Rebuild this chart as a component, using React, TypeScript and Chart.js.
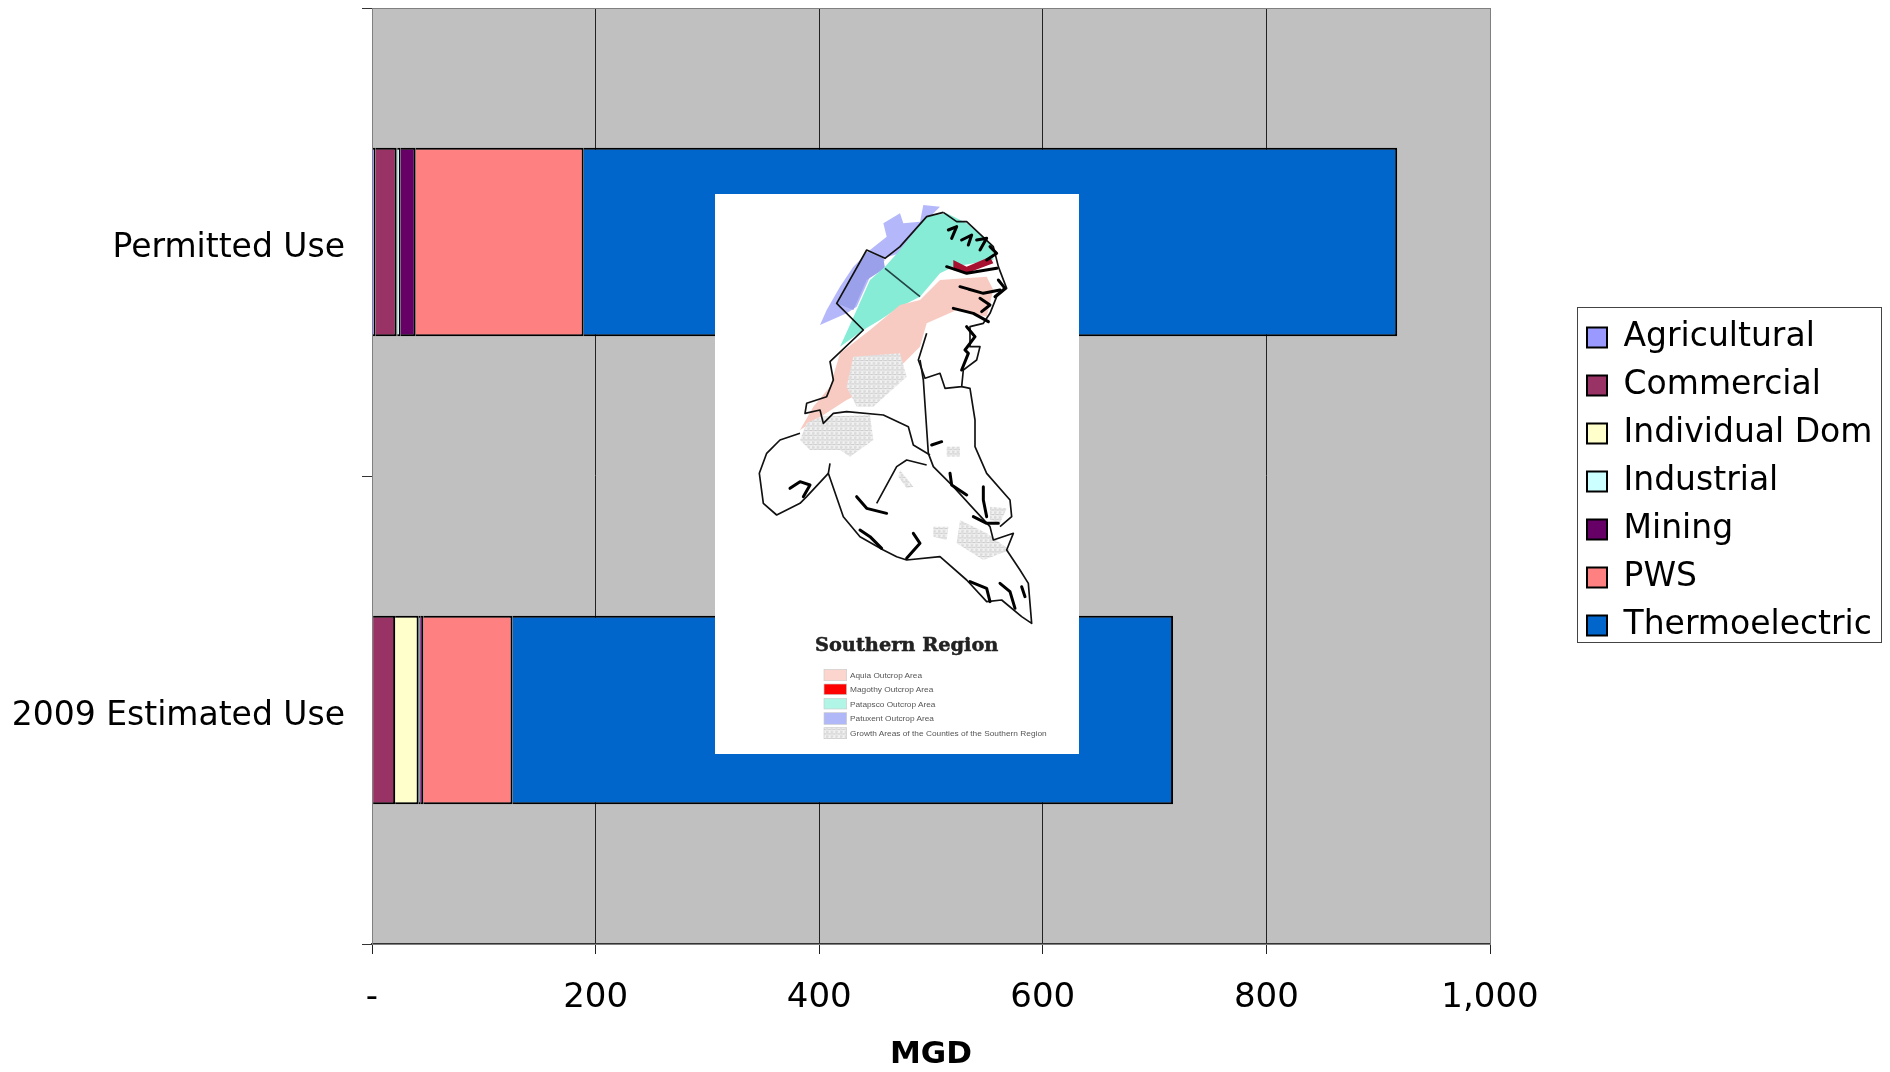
import React, { useEffect, useRef } from "react";
import { Chart, registerables } from "chart.js";

Chart.register(...registerables);

const categories = ["Permitted Use", "2009 Estimated Use"];
const agricultural = [3, 1];
const commercial = [19, 19.7];
const individualDom = [0.6, 21];
const industrial = [2.9, 1.5];
const mining = [13.5, 2.7];
const pws = [150.3, 79.8];
const thermoelectric = [727.7, 590.8];
const seriesNames = ["Agricultural", "Commercial", "Individual Dom", "Industrial", "Mining", "PWS", "Thermoelectric"];
const seriesValues = [agricultural, commercial, individualDom, industrial, mining, pws, thermoelectric];
const seriesColors = ["#9999FF", "#993366", "#FFFFCC", "#CCFFFF", "#660066", "#FF8080", "#0066CC"];
const FONT = "'DejaVu Sans', sans-serif";

const layoutPlugin = {
  id: "layoutPlugin",
  beforeLayout(chart: any) {
    const l = chart.legend;
    if (l && !l.__wrapped) {
      const fit = l.fit.bind(l);
      l.fit = function () { fit(); l.width = 400; };
      l.__wrapped = true;
    }
  },
  afterLayout(chart: any) {
    const l = chart.legend;
    l.left = 1572; l.right = 1885; l.top = 306; l.bottom = 720; l.width = 313; l.height = 414;
  },
  beforeDraw(chart: any) {
    const { ctx, chartArea: a } = chart;
    ctx.save();
    ctx.fillStyle = "#C0C0C0";
    ctx.fillRect(a.left, a.top, a.right - a.left, a.bottom - a.top);
    ctx.restore();
  },
  afterDatasetsDraw(chart: any) {
    const { ctx, chartArea: a } = chart;
    ctx.save();
    ctx.strokeStyle = "#808080";
    ctx.lineWidth = 1;
    ctx.strokeRect(a.left + 0.5, a.top + 0.5, a.right - a.left, a.bottom - a.top);
    ctx.strokeStyle = "#444";
    ctx.lineWidth = 1;
    ctx.strokeRect(1577.5, 307.5, 304, 335);
    ctx.restore();
  },
};

const pt = (s: string) => s;

function MapInset() {
  const stroke = { fill: "none", stroke: "#111", strokeWidth: 5, strokeLinejoin: "round" as const };
  const inlet = { fill: "none", stroke: "#000", strokeWidth: 9, strokeLinejoin: "round" as const, strokeLinecap: "round" as const };
  return (
    <svg
      viewBox="45 42 1092 1680"
      style={{ position: "absolute", left: 715, top: 194, width: 364, height: 560, background: "#fff", filter: "blur(0.6px)" }}
    >
      <defs>
        <pattern id="grow" width="14" height="14" patternUnits="userSpaceOnUse">
          <rect width="14" height="14" fill="#f1f1f1" />
          <path d="M0 3H8M6 10H14M3 6V12" stroke="#b4b4b4" strokeWidth="2" />
        </pattern>
      </defs>
      <polygon fill="#b4b8fb" points={pt("670,75 720,80 690,110 600,220 550,235 510,210 460,260 420,320 380,390 360,435 440,400 470,380 510,290 555,240 510,210 560,170 550,130 600,100 610,130 660,125")} />
      <polygon fill="#9aa0ea" points={pt("500,215 550,235 555,265 500,300 460,390 410,370")} />
      <polygon fill="#86ecd6" points={pt("600,210 680,110 740,100 800,130 880,200 880,240 760,260 720,280 660,350 600,380 540,420 490,450 420,500 470,390 510,300 555,260")} />
      <polygon fill="#f8cbc2" points={pt("720,300 860,290 880,330 860,410 770,390 680,430 660,500 560,600 440,660 300,750 340,680 390,620 420,520 510,450 600,375 660,360")} />
      <polygon fill="#fff" points={pt("680,440 760,420 790,440 800,560 780,610 735,620 720,580 675,595 660,540")} />
      <polygon fill="url(#grow)" points={pt("460,530 600,520 620,590 520,680 470,680 440,620")} />
      <polygon fill="url(#grow)" points={pt("320,730 360,710 510,705 520,780 450,830 420,810 330,810 300,780")} />
      <polygon fill="url(#grow)" points={pt("780,1020 860,1060 930,1110 850,1140 770,1090")} />
      <polygon fill="url(#grow)" points={pt("700,1040 745,1040 740,1080 700,1070")} />
      <polygon fill="url(#grow)" points={pt("740,800 780,800 780,830 740,830")} />
      <polygon fill="url(#grow)" points={pt("600,870 640,920 620,925 595,890")} />
      <polygon fill="url(#grow)" points={pt("870,980 920,985 900,1030 870,1020")} />
      <polygon fill="#a81030" points={pt("760,240 800,260 870,230 880,250 800,280 760,270")} />
      <polyline {...stroke} points={pt("730,97 680,110 600,200 555,235 500,210 410,370 490,450 390,545 400,600 380,650 320,670 315,700 360,690 370,730 400,700 440,695 550,705 625,740 640,795 690,825")} />
      <polyline {...stroke} points={pt("730,97 770,125 800,125 880,200 895,260 920,325 890,350 870,400 850,430 810,440 810,500 840,500 830,540 790,570 785,620 735,625 720,580 675,595 655,540 680,460")} />
      <polyline {...stroke} stroke="#244" points={pt("555,265 660,350")} />
      <polyline {...stroke} points={pt("660,540 670,600 685,820 700,860 760,920 870,1040 880,1080 940,1060 920,1110 960,1170 985,1210 990,1270 995,1330 965,1310 905,1260 860,1265 800,1200 720,1130 620,1140 590,1130 550,1110 480,1070 430,1010 385,880 390,850")} />
      <polyline {...stroke} points={pt("300,760 240,780 200,820 178,880 190,970 230,1005 300,970 320,950 385,880")} />
      <polyline {...stroke} points={pt("530,970 590,860 620,840 680,855")} />
      <polyline {...stroke} points={pt("785,620 810,625 825,720 825,800 860,880 930,960 935,1010 900,1040")} />
      <polyline {...inlet} points={pt("745,150 770,140 755,175")} />
      <polyline {...inlet} points={pt("785,180 815,165 805,195")} />
      <polyline {...inlet} points={pt("830,180 860,175 840,210")} />
      <polyline {...inlet} points={pt("870,200 890,220 860,240")} />
      <polyline {...inlet} points={pt("740,260 800,280 890,265")} />
      <polyline {...inlet} points={pt("780,320 850,340 900,330")} />
      <polyline {...inlet} points={pt("760,385 820,400 865,425")} />
      <polyline {...inlet} points={pt("800,440 825,470 795,510 805,520 785,570")} />
      <polyline {...inlet} points={pt("840,355 870,375 845,395")} />
      <polyline {...inlet} points={pt("895,300 915,325 885,350")} />
      <polyline {...inlet} points={pt("270,925 300,905 330,915 310,950")} />
      <polyline {...inlet} points={pt("470,950 500,985 560,1000")} />
      <polyline {...inlet} points={pt("480,1050 510,1070 545,1105")} />
      <polyline {...inlet} points={pt("640,1060 660,1090 620,1135")} />
      <polyline {...inlet} points={pt("850,920 850,960 860,1010")} />
      <polyline {...inlet} points={pt("820,1010 860,1030 895,1030")} />
      <polyline {...inlet} points={pt("750,880 755,915 800,945")} />
      <polyline {...inlet} points={pt("695,795 725,785")} />
      <polyline {...inlet} points={pt("810,1205 860,1225 870,1265")} />
      <polyline {...inlet} points={pt("900,1210 930,1235 945,1285")} />
      <polyline {...inlet} points={pt("965,1220 975,1250")} />
      <text x="345" y="1414" textLength="550" lengthAdjust="spacingAndGlyphs" fontFamily="'DejaVu Serif', serif" fontWeight="bold" fontSize="54" fill="#222" stroke="#222" strokeWidth="1.5">Southern Region</text>
      <g stroke="#ccc" strokeWidth="2">
        <rect x="372" y="1468" width="68" height="34" fill="#fcd5ce" />
        <rect x="372" y="1512" width="68" height="32" fill="#ff0000" />
        <rect x="372" y="1555" width="68" height="32" fill="#b0f5e5" />
        <rect x="372" y="1598" width="68" height="35" fill="#b0b8f8" />
        <rect x="372" y="1643" width="68" height="33" fill="url(#grow)" />
      </g>
      <g fontFamily="'Liberation Sans', sans-serif" fontSize="23" fill="#555">
        <text x="450" y="1493" textLength="216" lengthAdjust="spacingAndGlyphs">Aquia Outcrop Area</text>
        <text x="450" y="1536" textLength="250" lengthAdjust="spacingAndGlyphs">Magothy Outcrop Area</text>
        <text x="450" y="1580" textLength="256" lengthAdjust="spacingAndGlyphs">Patapsco Outcrop Area</text>
        <text x="450" y="1623" textLength="252" lengthAdjust="spacingAndGlyphs">Patuxent Outcrop Area</text>
        <text x="450" y="1668" textLength="590" lengthAdjust="spacingAndGlyphs">Growth Areas of the Counties of the Southern Region</text>
      </g>
    </svg>
  );
}

export default function App() {
  const ref = useRef<HTMLCanvasElement>(null);
  useEffect(() => {
    const chart = new Chart(ref.current!, {
      type: "bar",
      data: {
        labels: categories,
        datasets: seriesNames.map((name, i) => ({
          label: name,
          data: seriesValues[i],
          backgroundColor: seriesColors[i],
          borderColor: "#000",
          borderWidth: 2,
          categoryPercentage: 1,
          barPercentage: 0.403,
        })),
      },
      plugins: [layoutPlugin],
      options: {
        indexAxis: "y",
        responsive: false,
        animation: false,
        layout: { autoPadding: false, padding: { top: 8, left: 0, right: 0, bottom: 0 } },
        scales: {
          x: {
            stacked: true,
            min: 0,
            max: 1000,
            afterFit(s: any) { s.height = 128; s.paddingLeft = 0; s.paddingRight = 0; s.paddingTop = 0; s.paddingBottom = 0; },
            ticks: {
              stepSize: 200,
              maxRotation: 0,
              autoSkip: false,
              padding: 24,
              color: "#000",
              font: { family: FONT, size: 34 },
              callback: (v: any) => (v === 0 ? "-" : Number(v).toLocaleString("en-US")),
            },
            grid: { color: "#222", lineWidth: 1, tickLength: 10, tickColor: "#222" },
            border: { color: "#333", width: 2 },
            title: {
              display: true,
              text: "MGD",
              color: "#000",
              padding: { top: 0, bottom: -2 },
              font: { family: FONT, size: 31, weight: "bold" },
            },
          },
          y: {
            stacked: true,
            afterFit(s: any) { s.width = 372; s.paddingTop = 0; s.paddingBottom = 0; s.paddingLeft = 0; s.paddingRight = 0; },
            ticks: { padding: 17, labelOffset: 6, color: "#000", font: { family: FONT, size: 33 }, autoSkip: false },
            grid: { offset: true, drawOnChartArea: false, tickLength: 10, tickColor: "#333", color: "#333" },
            border: { color: "#808080", width: 1 },
          },
        },
        plugins: {
          title: { display: false },
          tooltip: { enabled: false },
          legend: {
            display: true,
            position: "right",
            align: "start",
            labels: {
              color: "#000",
              font: { family: FONT, size: 33 },
              boxWidth: 20,
              boxHeight: 20,
              padding: 15,
            },
          },
        },
      },
    } as any);
    return () => chart.destroy();
  }, []);
  return (
    <div style={{ position: "absolute", left: 0, top: 0, width: 1890, height: 1072, background: "#fff", overflow: "hidden" }}>
      <canvas ref={ref} width={1890} height={1072} style={{ display: "block" }} />
      <MapInset />
    </div>
  );
}
